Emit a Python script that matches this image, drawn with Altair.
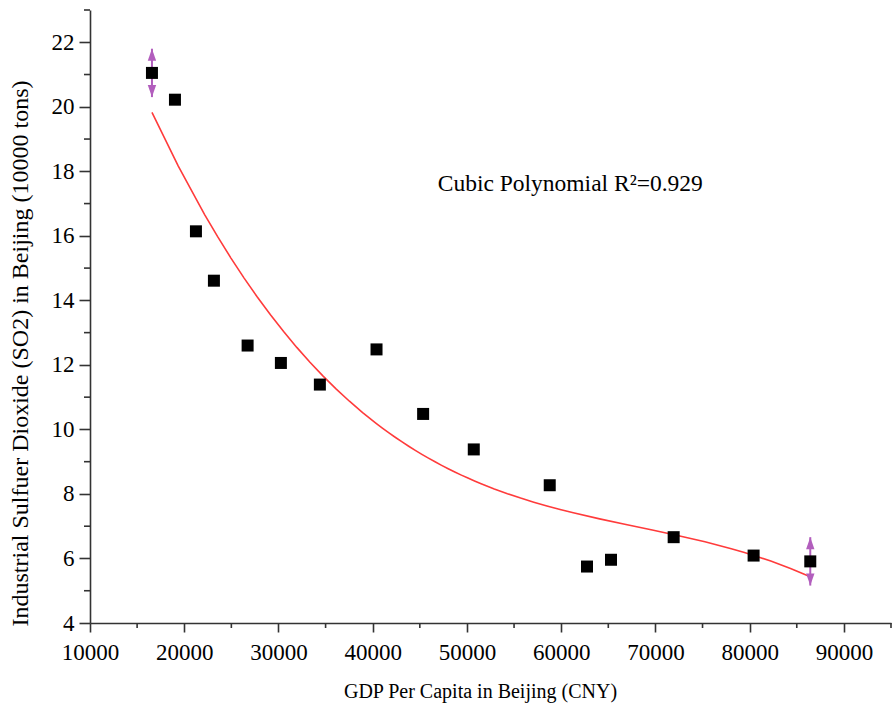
import altair as alt
import pandas as pd

# GDP per capita (CNY) and industrial SO2 emissions (10000 tons), Beijing
gdp = [16575, 19015, 21242, 23150, 26725, 30257, 34393, 40405,
       45350, 50725, 58786, 62742, 65288, 71937, 80420, 86434]
so2 = [21.05, 20.22, 16.14, 14.61, 12.60, 12.06, 11.39, 12.48,
       10.48, 9.38, 8.27, 5.75, 5.96, 6.66, 6.09, 5.91]

# end points flagged with a vertical double arrow
arrow_gdp = [16575, 86434]
arrow_so2 = [21.05, 5.91]
arrow_half = 0.75

x_major = [10000, 20000, 30000, 40000, 50000, 60000, 70000, 80000, 90000]
x_minor = [15000, 25000, 35000, 45000, 55000, 65000, 75000, 85000, 95000]
y_major = [4, 6, 8, 10, 12, 14, 16, 18, 20, 22]
y_minor = [5, 7, 9, 11, 13, 15, 17, 19, 21, 23]

note_text = "Cubic Polynomial R²=0.929"
note_gdp = 46900
note_so2 = 17.62

FONT = "Liberation Serif"
AXIS_COLOR = "#333333"
W, H = 801, 613

df = pd.DataFrame({"gdp": gdp, "so2": so2})
arrows = pd.DataFrame({
    "gdp": arrow_gdp,
    "lo": [v - arrow_half for v in arrow_so2],
    "hi": [v + arrow_half for v in arrow_so2],
})

xs = alt.Scale(domain=[10000, 95000], nice=False, zero=False)
ys = alt.Scale(domain=[4, 23], nice=False, zero=False)

x_axis = alt.Axis(
    values=x_major, format="d", grid=False,
    title="GDP Per Capita in Beijing (CNY)",
    domainColor=AXIS_COLOR, domainWidth=1.6,
    tickColor=AXIS_COLOR, tickWidth=1.6, tickSize=9,
    labelFont=FONT, labelFontSize=23, labelColor="black", labelPadding=9,
    labelOverlap=False, labelFlush=False,
    titleFont=FONT, titleFontSize=20, titleFontWeight="normal", titleColor="black",
    titleX=390, titleY=74, titleBaseline="alphabetic", titleAlign="center",
)
y_axis = alt.Axis(
    values=y_major, format="d", grid=False,
    title="Industrial Sulfuer Dioxide (SO2) in Beijing (10000 tons)",
    domainColor=AXIS_COLOR, domainWidth=1.6,
    tickColor=AXIS_COLOR, tickWidth=1.6, tickSize=11,
    labelFont=FONT, labelFontSize=23, labelColor="black", labelPadding=5,
    labelOverlap=False, labelFlush=False,
    titleFont=FONT, titleFontSize=24, titleFontWeight="normal", titleColor="black",
    titleAngle=270, titleX=-70, titleY=343, titleBaseline="middle", titleAlign="center",
)


def xq(field):
    return alt.X(field, type="quantitative", scale=xs, axis=x_axis)


def yq(field):
    return alt.Y(field, type="quantitative", scale=ys, axis=y_axis)


# cubic polynomial fit
fit = alt.Chart(df).transform_regression(
    "gdp", "so2", method="poly", order=3, extent=[min(gdp), max(gdp)]
).mark_line(color="#ff3b3b", strokeWidth=1.6).encode(x=xq("gdp"), y=yq("so2"))

points = alt.Chart(df).mark_square(size=144, color="black", opacity=1).encode(
    x=xq("gdp"), y=yq("so2"))

PURPLE = "#b25ebd"
arrow_line = alt.Chart(arrows).mark_rule(color=PURPLE, strokeWidth=2).encode(
    x=xq("gdp"), y=yq("lo"), y2="hi:Q")
arrow_up = alt.Chart(arrows).mark_point(
    shape="M0,-1L0.7,1L-0.7,1Z", filled=True, size=144, opacity=1,
    color=PURPLE, yOffset=6,
).encode(x=xq("gdp"), y=yq("hi"))
arrow_down = alt.Chart(arrows).mark_point(
    shape="M0,1L0.7,-1L-0.7,-1Z", filled=True, size=144, opacity=1,
    color=PURPLE, yOffset=-6,
).encode(x=xq("gdp"), y=yq("lo"))

# minor ticks between the labelled ones
x_minor_ticks = alt.Chart(pd.DataFrame({"gdp": x_minor})).mark_rule(
    color=AXIS_COLOR, strokeWidth=1.6
).encode(x=xq("gdp"), y=alt.value(H), y2=alt.value(H + 5))
y_minor_ticks = alt.Chart(pd.DataFrame({"so2": y_minor})).mark_rule(
    color=AXIS_COLOR, strokeWidth=1.6
).encode(y=yq("so2"), x=alt.value(0), x2=alt.value(-6))

note = alt.Chart(pd.DataFrame({"gdp": [note_gdp], "so2": [note_so2], "t": [note_text]})).mark_text(
    font=FONT, fontSize=23.5, color="black", align="left", baseline="middle"
).encode(x=xq("gdp"), y=yq("so2"), text="t:N")

chart = alt.layer(
    fit, arrow_line, points, arrow_up, arrow_down, x_minor_ticks, y_minor_ticks, note
).properties(
    width=W, height=H,
    autosize=alt.AutoSizeParams(type="none"),
    padding={"left": 90, "top": 10, "right": 2, "bottom": 88},
    background="white",
).configure_view(stroke=None)

chart.save("out.html", embed_options={"renderer": "svg", "actions": False})
